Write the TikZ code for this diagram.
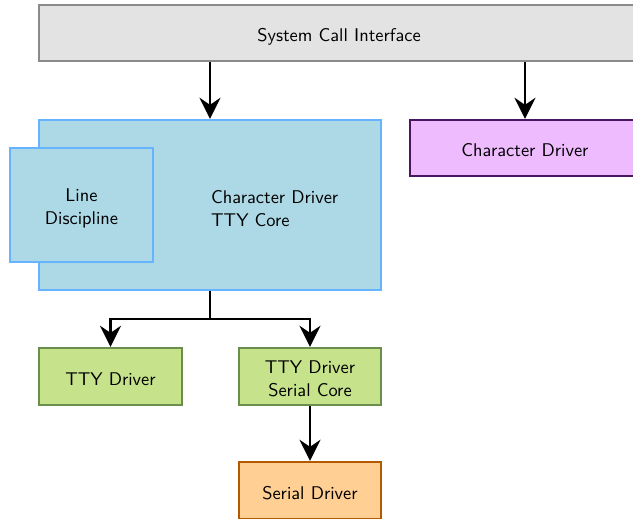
\documentclass[tikz,border=0pt]{standalone}
\usepackage{fontspec}
\setsansfont{lmsans10-regular.otf}
\usetikzlibrary{arrows.meta}
\definecolor{sysfill}{HTML}{E3E3E3}
\definecolor{sysdraw}{HTML}{8A8A8A}
\definecolor{ttyfill}{HTML}{ADD8E6}
\definecolor{ttydraw}{HTML}{66B3FF}
\definecolor{chfill}{HTML}{EEBBFF}
\definecolor{chdraw}{HTML}{4A1660}
\definecolor{grfill}{HTML}{C6E38C}
\definecolor{grdraw}{HTML}{6A8F4C}
\definecolor{orfill}{HTML}{FFCF94}
\definecolor{ordraw}{HTML}{B35A00}
\tikzset{
  txt/.style={font=\sffamily\fontsize{18.4}{23}\selectfont, align=center, inner sep=0pt},
  box/.style={rectangle, line width=2.4pt, inner sep=0pt},
  sysbox/.style={box, fill=sysfill, draw=sysdraw},
  ttybox/.style={box, fill=ttyfill, draw=ttydraw},
  chbox/.style={box, fill=chfill, draw=chdraw},
  grbox/.style={box, fill=grfill, draw=grdraw},
  orbox/.style={box, fill=orfill, draw=ordraw},
  conn/.style={line width=2.6pt, -{Stealth[length=21pt, width=21pt, inset=7pt]}},
  plain/.style={line width=2.6pt}
}
\begin{document}
\begin{tikzpicture}[x=1pt, y=-1pt]
\useasboundingbox (0,0) rectangle (633,519);
\clip (0,0) rectangle (633,519);
\node[sysbox, minimum width=600pt, minimum height=56pt] (sys) at (339,33) {};
\node[txt] (systxt) at (339,37) {System Call Interface};
\node[ttybox, minimum width=342pt, minimum height=170pt] (core) at (210,205) {};
\node[ttybox, minimum width=143pt, minimum height=114pt] (ld) at (81.5,205) {};
\node[txt] (ldtxt) at (81.5,208.5) {Line\\Discipline};
\node[txt, anchor=west, align=left] (coretxt) at (211,208.5) {Character Driver\\TTY Core};
\node[chbox, minimum width=230pt, minimum height=56pt] (ch) at (525,148) {};
\node[txt] (chtxt) at (525,150) {Character Driver};
\node[grbox, minimum width=143pt, minimum height=57pt] (tty) at (110.5,376.5) {};
\node[txt] (ttytxt) at (110.5,379.5) {TTY Driver};
\node[grbox, minimum width=142pt, minimum height=57pt] (ser) at (310,376.5) {};
\node[txt] (sertxt) at (310,379) {TTY Driver\\Serial Core};
\node[orbox, minimum width=142pt, minimum height=57pt] (sd) at (310,490.5) {};
\node[txt] (sdtxt) at (310,493.5) {Serial Driver};
\coordinate (br) at (210,319);
\draw[conn] (sys.south -| core.north) -- (core.north);
\draw[conn] (sys.south -| ch.north) -- (ch.north);
\draw[plain] (core.south) -- (br);
\draw[conn] (br) -| (tty.north);
\draw[conn] (br) -| (ser.north);
\draw[conn] (ser.south) -- (sd.north);
\end{tikzpicture}
\end{document}
